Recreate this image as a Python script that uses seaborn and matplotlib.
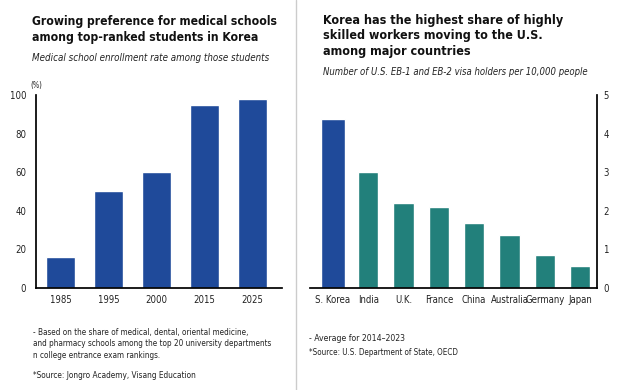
import pandas as pd
import matplotlib
matplotlib.use('Agg')
import matplotlib.pyplot as plt
import seaborn as sns
from matplotlib import font_manager

# Data
years = ['1985', '1995', '2000', '2015', '2025']
enroll_rate = [16, 50, 60, 95, 98]

countries = ['S. Korea', 'India', 'U.K.', 'France', 'China', 'Australia', 'Germany', 'Japan']
visa_rate = [4.38, 3.0, 2.2, 2.1, 1.68, 1.37, 0.85, 0.56]

blue = '#1f4a9a'
teal = '#22807b'
W, H = 630, 390

sns.set_theme(style='white')


def weight_num(w):
    return w if isinstance(w, (int, float)) else font_manager.weight_dict.get(w, 400)


# pick a condensed sans face that also has a bold cut; otherwise Roboto
narrow_stretch = ('condensed', 'semi-condensed', 'extra-condensed', 'ultra-condensed')
groups = {}
for f in font_manager.fontManager.ttflist:
    if 'Serif' in f.name or 'Mono' in f.name:
        continue
    if 'Narrow' in f.name or 'Condensed' in f.name or f.stretch in narrow_stretch:
        groups.setdefault((f.name, f.stretch), []).append(f)
family, stretch = 'Roboto', 'normal'
for (name, st), fs in sorted(groups.items(), key=lambda kv: 'Sans' not in kv[0][0]):
    if any(weight_num(f.weight) >= 600 for f in fs):
        family, stretch = name, st
        break
plt.rcParams['font.family'] = [family, 'DejaVu Sans']
plt.rcParams['font.stretch'] = stretch
plt.rcParams['axes.edgecolor'] = 'black'

fig = plt.figure(figsize=(6.3, 3.9), dpi=100)
renderer = fig.canvas.get_renderer()


def fit_size(s, width_px, **kw):
    # font size that makes string s about width_px wide
    t = fig.text(0, 0, s, fontsize=10, **kw)
    w = t.get_window_extent(renderer).width
    t.remove()
    return 10 * width_px / w


def block(x, baselines, lines, longest, width_px, **kw):
    size = fit_size(lines[longest], width_px, **kw)
    for yb, s in zip(baselines, lines):
        fig.text(x / W, 1 - yb / H, s, fontsize=size, ha='left', va='baseline', **kw)


tick_size = fit_size('Australia', 38)

# left chart
df1 = pd.DataFrame({'year': years, 'rate': enroll_rate})
ax1 = fig.add_axes([36 / W, 1 - 287.7 / H, 246 / W, 192.7 / H])
sns.barplot(data=df1, x='year', y='rate', color=blue, saturation=1, width=0.6, ax=ax1)
ax1.set_ylim(0, 100)
ax1.set_xlim(-0.51, 4.61)
ax1.set_yticks([0, 20, 40, 60, 80, 100])
ax1.set_xlabel('')
ax1.set_ylabel('')
for s in ['top', 'right']:
    ax1.spines[s].set_visible(False)
ax1.tick_params(axis='both', labelsize=tick_size, length=0, colors='#222222')
ax1.tick_params(axis='x', pad=5)
ax1.tick_params(axis='y', pad=7)
ax1.text(0, 1.05, '(%)', transform=ax1.transAxes, fontsize=tick_size * 0.8,
         ha='center', va='center', color='#222222')

# right chart
df2 = pd.DataFrame({'country': countries, 'rate': visa_rate})
ax2 = fig.add_axes([310 / W, 1 - 287.7 / H, 286.7 / W, 192.7 / H])
sns.barplot(data=df2, x='country', y='rate', hue='country',
            palette=[blue] + [teal] * (len(countries) - 1),
            saturation=1, width=0.58, legend=False, ax=ax2)
# the highlighted bar is drawn a little wider
p = ax2.patches[0]
cx = p.get_x() + p.get_width() / 2
p.set_width(0.68)
p.set_x(cx - 0.34)
ax2.set_ylim(0, 5)
ax2.set_xlim(-0.65, 7.47)
ax2.set_yticks([0, 1, 2, 3, 4, 5])
ax2.set_xlabel('')
ax2.set_ylabel('')
ax2.yaxis.tick_right()
for s in ['top', 'left']:
    ax2.spines[s].set_visible(False)
ax2.tick_params(axis='both', labelsize=tick_size, length=0, colors='#222222')
ax2.tick_params(axis='x', pad=5)
ax2.tick_params(axis='y', pad=5)

# separator
fig.add_artist(plt.Line2D([295.7 / W, 295.7 / W], [0, 1], color='#cccccc', lw=1))

# titles
block(32, [25, 41], ['Growing preference for medical schools',
                     'among top-ranked students in Korea'], 0, 245,
      fontweight='bold', color='#111111')
block(32, [61], ['Medical school enrollment rate among those students'], 0, 235,
      style='italic', color='#222222')

block(323, [24, 39.5, 55], ['Korea has the highest share of highly',
                            'skilled workers moving to the U.S.',
                            'among major countries'], 0, 237,
      fontweight='bold', color='#111111')
block(323, [75], ['Number of U.S. EB-1 and EB-2 visa holders per 10,000 people'], 0, 265,
      style='italic', color='#222222')

# footnotes
block(33, [335, 346.5, 358], ['- Based on the share of medical, dental, oriental medicine,',
                              'and pharmacy schools among the top 20 university departments',
                              'n college entrance exam rankings.'], 1, 240, color='#222222')
block(33, [378], ['*Source: Jongro Academy, Visang Education'], 0, 164, color='#222222')
block(309, [341], ['- Average for 2014\u20132023'], 0, 96, color='#222222')
block(309, [355], ['*Source: U.S. Department of State, OECD'], 0, 149, color='#222222')

fig.savefig('out.png', dpi=100)
